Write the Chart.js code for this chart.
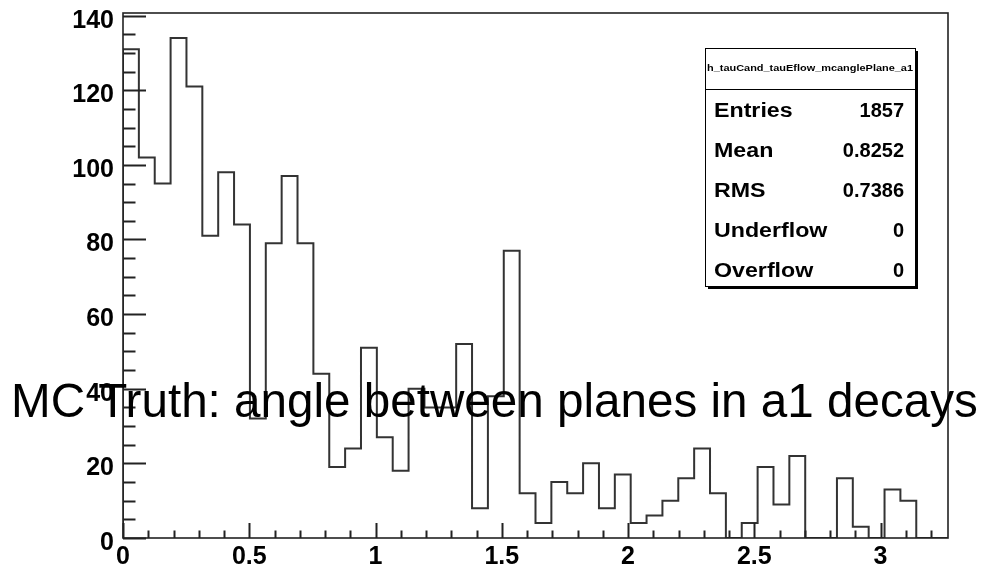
<!DOCTYPE html>
<html>
<head>
<meta charset="utf-8">
<script src="https://cdn.jsdelivr.net/npm/chart.js@4.4.1/dist/chart.umd.min.js"></script>
<style>
  html, body { margin: 0; padding: 0; background: #fff; }
  canvas { display: block; }
</style>
</head>
<body>
<canvas id="hist" width="984" height="565"></canvas>
<script>
// angle between decay planes, 52 bins of pi/50 starting at 0
var binWidth = Math.PI / 50;
var counts = [
  131, 102, 95, 134, 121, 81, 98, 84, 32, 79,
  97, 79, 44, 19, 24, 51, 27, 18, 40, 35,
  35, 52, 8, 38, 77, 12, 4, 15, 12, 20,
  8, 17, 4, 6, 10, 16, 24, 12, 0, 4,
  19, 9, 22, 0, 0, 16, 3, 0, 13, 10,
  0, 0
];
var xMax = counts.length * binWidth;
var yMax = 140.7;

var statsTitle = 'h_tauCand_tauEflow_mcanglePlane_a1';
var statsLabels = ['Entries', 'Mean', 'RMS', 'Underflow', 'Overflow'];
var statsValues = ['1857', '0.8252', '0.7386', '0', '0'];
var plotTitle = 'MC Truth: angle between planes in a1 decays';

var FONT = '"Liberation Sans", Arial, Helvetica, sans-serif';

// outline points: each bin's upper edge carries its count, closed to zero at both ends
var outline = [{x: 0, y: 0}, {x: 0, y: counts[0]}];
counts.forEach(function (c, i) {
  outline.push({x: (i + 1) * binWidth, y: c});
  if (i + 1 < counts.length) outline.push({x: (i + 1) * binWidth, y: counts[i + 1]});
});
outline.push({x: xMax, y: 0});

function noPad(s) {
  s.paddingTop = 0;
  s.paddingBottom = 0;
  s.paddingLeft = 0;
  s.paddingRight = 0;
}

// frame + ROOT style inward ticks
var framePlugin = {
  id: 'frame',
  afterDatasetsDraw: function (chart) {
    var ctx = chart.ctx, a = chart.chartArea;
    var xs = chart.scales.x, ys = chart.scales.y;
    ctx.save();
    ctx.strokeStyle = '#222';
    ctx.lineWidth = 2;
    ctx.beginPath();
    var v, p, big;
    for (v = 0; v <= yMax + 1e-9; v += 5) {
      p = Math.round(ys.getPixelForValue(v)) + 0.5;
      big = v % 20 === 0;
      ctx.moveTo(a.left, p);
      ctx.lineTo(a.left + (big ? 23 : 12.5), p);
    }
    for (var k = 0; k * 0.1 <= xMax; k++) {
      p = Math.round(xs.getPixelForValue(k * 0.1)) + 0.5;
      big = k % 5 === 0;
      ctx.moveTo(p, a.bottom);
      ctx.lineTo(p, a.bottom - (big ? 15 : 7.5));
    }
    ctx.stroke();
    ctx.lineWidth = 1.6;
    ctx.strokeRect(a.left, a.top, a.right - a.left, a.bottom - a.top);
    ctx.restore();
  },
  afterDraw: function (chart) {
    var ctx = chart.ctx;
    ctx.save();
    // stats box with drop shadow
    var bx = 705, by = 48, bw = 210, bh = 238;
    ctx.fillStyle = '#000';
    ctx.fillRect(bx + 3, by + 3, bw, bh);
    ctx.fillStyle = '#fff';
    ctx.fillRect(bx, by, bw, bh);
    ctx.strokeStyle = '#000';
    ctx.lineWidth = 1;
    ctx.strokeRect(bx + 0.5, by + 0.5, bw, bh);
    ctx.beginPath();
    ctx.moveTo(bx, by + 41.5);
    ctx.lineTo(bx + bw, by + 41.5);
    ctx.stroke();

    ctx.fillStyle = '#000';
    ctx.textBaseline = 'middle';
    ctx.font = 'bold 9px ' + FONT;
    var tw = ctx.measureText(statsTitle).width;
    ctx.save();
    ctx.translate(bx + 2, by + 21);
    ctx.scale((bw - 4) / tw, 1);
    ctx.textAlign = 'left';
    ctx.fillText(statsTitle, 0, 0);
    ctx.restore();

    ctx.font = 'bold 20px ' + FONT;
    for (var i = 0; i < statsLabels.length; i++) {
      var ry = by + 63 + i * 40;
      ctx.save();
      ctx.translate(bx + 9, ry);
      ctx.scale(1.16, 1);
      ctx.textAlign = 'left';
      ctx.fillText(statsLabels[i], 0, 0);
      ctx.restore();
      ctx.textAlign = 'right';
      ctx.fillText(statsValues[i], bx + 199, ry);
    }

    // big title laid over the plot, sized to span 11..978
    ctx.font = '47px ' + FONT;
    var w = ctx.measureText(plotTitle).width;
    ctx.font = (47 * 967 / w).toFixed(2) + 'px ' + FONT;
    ctx.textAlign = 'left';
    ctx.textBaseline = 'alphabetic';
    ctx.fillText(plotTitle, 11, 417);
    ctx.restore();
  }
};

new Chart(document.getElementById('hist'), {
  type: 'line',
  data: {
    datasets: [{
      data: outline,
      borderColor: '#333',
      borderWidth: 2,
      pointRadius: 0,
      tension: 0,
      fill: false
    }]
  },
  options: {
    responsive: false,
    animation: false,
    devicePixelRatio: 1,
    layout: { padding: { left: 0, top: 13, right: 36, bottom: 0 } },
    plugins: {
      legend: { display: false },
      tooltip: { enabled: false },
      title: { display: false }
    },
    scales: {
      x: {
        type: 'linear',
        min: 0,
        max: xMax,
        grid: { display: false, drawTicks: false },
        border: { display: false },
        ticks: {
          stepSize: 0.5,
          includeBounds: false,
          maxRotation: 0,
          autoSkip: false,
          padding: 4,
          color: '#000',
          font: { family: FONT, size: 25, weight: 'bold' },
          callback: function (v) { return String(+v.toFixed(1)); }
        },
        afterFit: function (s) { s.height = 27; noPad(s); }
      },
      y: {
        min: 0,
        max: yMax,
        grid: { display: false, drawTicks: false },
        border: { display: false },
        ticks: {
          stepSize: 20,
          includeBounds: false,
          padding: 9,
          labelOffset: 5,
          color: '#000',
          font: { family: FONT, size: 25, weight: 'bold' }
        },
        afterFit: function (s) { s.width = 123; noPad(s); }
      }
    }
  },
  plugins: [framePlugin]
});
</script>
</body>
</html>
